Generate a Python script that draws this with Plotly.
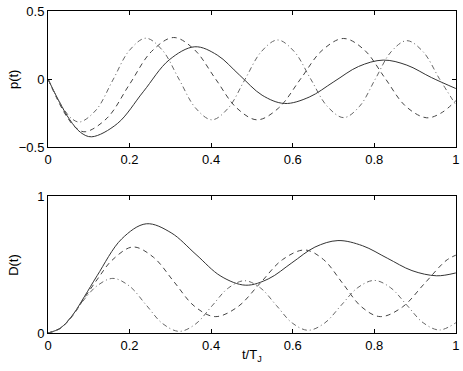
import plotly.graph_objects as go
from plotly.subplots import make_subplots

# ----------------------------- Data -----------------------------
# top panel p(t)
p_solid_t = [0, 0.027, 0.0535, 0.08, 0.107, 0.170, 0.2335, 0.297, 0.36, 0.415, 0.47, 0.525, 0.58,
             0.6405, 0.701, 0.7615, 0.822, 0.88, 0.94, 1.0]
p_solid = [0, -0.163, -0.30, -0.393, -0.425, -0.328, -0.094, 0.140, 0.237, 0.176, 0.028, -0.119, -0.18,
           -0.133, -0.020, 0.092, 0.139, 0.102, 0.011, -0.07]

p_dash_t = [0, 0.0228, 0.0455, 0.068, 0.091, 0.145, 0.1995, 0.254, 0.308, 0.359, 0.4105, 0.462, 0.513,
            0.566, 0.619, 0.672, 0.725, 0.776, 0.8265, 0.877, 0.928, 0.964, 1.0]
p_dash = [0, -0.149, -0.274, -0.358, -0.388, -0.287, -0.041, 0.203, 0.305, 0.216, 0.002, -0.211, -0.30,
          -0.212, -0.001, 0.210, 0.298, 0.213, 0.006, -0.200, -0.285, -0.25, -0.16]

p_dashdot_t = [0, 0.0195, 0.039, 0.0585, 0.078, 0.1185, 0.159, 0.1995, 0.24, 0.2805, 0.321, 0.3615, 0.402,
               0.442, 0.4825, 0.523, 0.563, 0.6035, 0.644, 0.6845, 0.725, 0.764, 0.8025, 0.841, 0.88,
               0.92, 0.96, 1.0]
p_dashdot = [0, -0.121, -0.223, -0.292, -0.316, -0.226, -0.008, 0.210, 0.30, 0.212, 0.0, -0.212, -0.30,
             -0.214, -0.006, 0.201, 0.287, 0.203, 0.001, -0.200, -0.284, -0.201, -0.001, 0.199, 0.282,
             0.200, 0.001, -0.19]

# bottom panel D(t)
d_solid_t = [0, 0.03, 0.06, 0.09, 0.1205, 0.181, 0.241, 0.302, 0.363, 0.424, 0.485, 0.5415, 0.598,
             0.6545, 0.711, 0.7715, 0.832, 0.8925, 0.953, 1.0]
d_solid = [0, 0.035, 0.13, 0.27, 0.42, 0.69, 0.80, 0.734, 0.575, 0.416, 0.35, 0.398, 0.514,
           0.629, 0.677, 0.639, 0.548, 0.457, 0.419, 0.44]

d_dash_t = [0, 0.03, 0.06, 0.09, 0.125, 0.156, 0.208, 0.2585, 0.309, 0.3595, 0.41, 0.465, 0.52, 0.575,
            0.63, 0.676, 0.7225, 0.769, 0.815, 0.869, 0.9225, 0.976, 1.0]
d_dash = [0, 0.033, 0.125, 0.26, 0.41, 0.53, 0.63, 0.555, 0.375, 0.195, 0.12, 0.191, 0.364, 0.537,
          0.608, 0.537, 0.364, 0.191, 0.12, 0.19, 0.36, 0.53, 0.57]

d_dashdot_t = [0, 0.03, 0.06, 0.09, 0.12, 0.159, 0.2, 0.2405, 0.281, 0.322, 0.362, 0.402, 0.442, 0.482,
               0.521, 0.56, 0.599, 0.638, 0.6785, 0.719, 0.7595, 0.80, 0.84, 0.88, 0.92, 0.96, 1.0]
d_dashdot = [0, 0.035, 0.13, 0.25, 0.345, 0.40, 0.343, 0.206, 0.069, 0.012, 0.066, 0.198, 0.329, 0.383,
             0.330, 0.202, 0.073, 0.02, 0.073, 0.203, 0.332, 0.385, 0.332, 0.204, 0.075, 0.022, 0.075]

x_ticks = [0, 0.2, 0.4, 0.6, 0.8, 1]
x_labels = ['0', '0.2', '0.4', '0.6', '0.8', '1']
p_ticks = [-0.5, 0, 0.5]
p_labels = ['\u22120.5', '0', '0.5']
d_ticks = [0, 1]
d_labels = ['0', '1']

# ----------------------------- Figure -----------------------------
fig = make_subplots(rows=2, cols=1)

styles = [('solid', '#333333'), ('5px,4px', '#444444'), ('5px,3px,1px,3px', '#666666')]

for (t, v), (dash, col) in zip([(p_solid_t, p_solid), (p_dash_t, p_dash), (p_dashdot_t, p_dashdot)], styles):
    fig.add_trace(go.Scatter(x=t, y=v, mode='lines', line=dict(color=col, width=1, dash=dash, shape='spline'),
                             showlegend=False), row=1, col=1)

for (t, v), (dash, col) in zip([(d_solid_t, d_solid), (d_dash_t, d_dash), (d_dashdot_t, d_dashdot)], styles):
    fig.add_trace(go.Scatter(x=t, y=v, mode='lines', line=dict(color=col, width=1, dash=dash, shape='spline'),
                             showlegend=False), row=2, col=1)

axis_style = dict(showline=True, linecolor='black', linewidth=1, mirror='allticks', automargin=False,
                  ticks='inside', ticklen=4, tickcolor='black', showgrid=False, zeroline=False,
                  tickfont=dict(size=13, color='black'))

fig.update_xaxes(range=[0, 1.0005], tickvals=x_ticks, ticktext=x_labels, ticklabeloverflow='allow', **axis_style)
fig.update_yaxes(**axis_style)

fig.update_layout(
    width=463, height=371,
    margin=dict(l=48, r=7, t=11, b=38, autoexpand=False),
    plot_bgcolor='white', paper_bgcolor='white',
    font=dict(family='Liberation Sans, Arial, sans-serif', size=13, color='black'),
    xaxis=dict(domain=[0, 1]),
    xaxis2=dict(domain=[0, 1]),
    yaxis=dict(domain=[0.5776, 1], range=[-0.5, 0.5], tickvals=p_ticks, ticktext=p_labels),
    yaxis2=dict(domain=[0, 0.424], range=[0, 1], tickvals=d_ticks, ticktext=d_labels),
)

# axis titles as annotations so both y titles line up like the original
fig.add_annotation(text='p(t)', x=-0.083, y=0.789, xref='paper', yref='paper', textangle=-90,
                   showarrow=False, xanchor='center', yanchor='middle', font=dict(size=13))
fig.add_annotation(text='D(t)', x=-0.083, y=0.212, xref='paper', yref='paper', textangle=-90,
                   showarrow=False, xanchor='center', yanchor='middle', font=dict(size=13))
fig.add_annotation(text='t/T<sub>J</sub>', x=0.5, y=-0.038, xref='paper', yref='paper',
                   showarrow=False, xanchor='center', yanchor='top', font=dict(size=13))

# page body has a default 8px margin, drop it so the figure sits at the window corner
fig.write_html("out.html", config={'displayModeBar': False},
               post_script="document.body.style.margin='0';")
